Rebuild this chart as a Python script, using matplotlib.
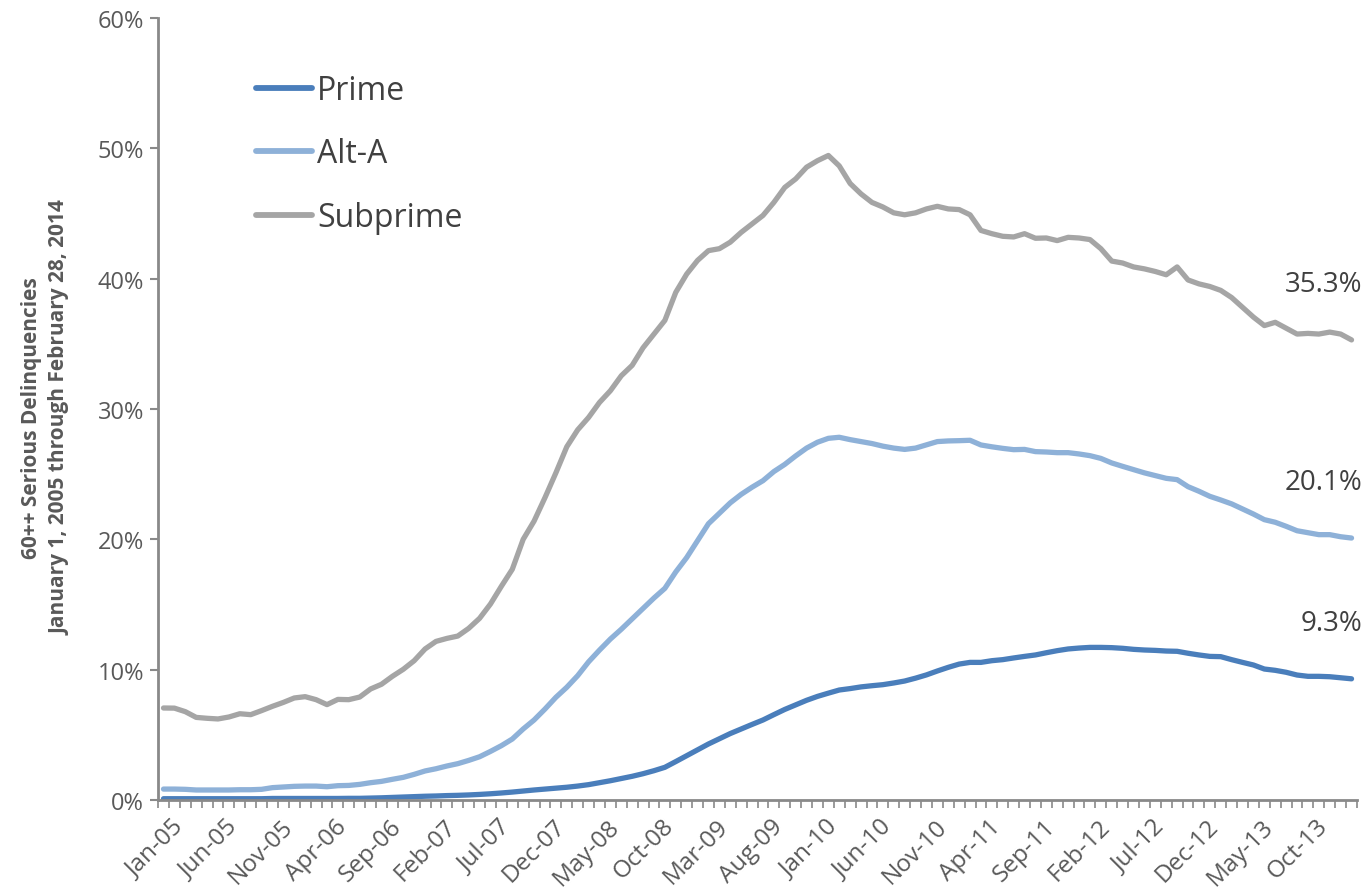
import numpy as np
import matplotlib
matplotlib.use("Agg")
import matplotlib.pyplot as plt
from matplotlib.ticker import FixedLocator, FuncFormatter
from matplotlib.transforms import ScaledTranslation

plt.rcParams['font.family'] = ['Open Sans', 'DejaVu Sans']

# monthly data, Jan-05 .. Feb-14 (percent)
months = [f"{m}-{y:02d}" for y in range(5, 15) for m in
          ["Jan", "Feb", "Mar", "Apr", "May", "Jun", "Jul", "Aug", "Sep", "Oct", "Nov", "Dec"]][:110]

prime = [
    0.10, 0.10, 0.10, 0.10, 0.10, 0.10, 0.10, 0.10, 0.10, 0.10,
    0.12, 0.12, 0.12, 0.12, 0.12, 0.12, 0.12, 0.13, 0.13, 0.15,
    0.17, 0.20, 0.23, 0.26, 0.29, 0.31, 0.34, 0.36, 0.39, 0.43,
    0.48, 0.54, 0.61, 0.69, 0.77, 0.84, 0.91, 0.98, 1.07, 1.18,
    1.33, 1.48, 1.65, 1.82, 2.02, 2.25, 2.51, 2.95, 3.40, 3.85,
    4.30, 4.70, 5.10, 5.45, 5.80, 6.14, 6.55, 6.95, 7.30, 7.65,
    7.95, 8.20, 8.44, 8.55, 8.68, 8.77, 8.85, 8.98, 9.13, 9.35,
    9.60, 9.90, 10.18, 10.43, 10.56, 10.56, 10.69, 10.77, 10.90, 11.02,
    11.13, 11.30, 11.46, 11.59, 11.66, 11.71, 11.71, 11.69, 11.64, 11.56,
    11.51, 11.48, 11.43, 11.41, 11.26, 11.13, 11.02, 11.00, 10.77, 10.56,
    10.36, 10.05, 9.95, 9.80, 9.59, 9.49, 9.49, 9.46, 9.38, 9.30,
]

alt_a = [
    0.84, 0.84, 0.82, 0.77, 0.77, 0.77, 0.77, 0.79, 0.79, 0.82,
    0.95, 1.00, 1.05, 1.07, 1.07, 1.02, 1.10, 1.12, 1.20, 1.33,
    1.43, 1.59, 1.74, 1.97, 2.23, 2.40, 2.61, 2.79, 3.04, 3.32,
    3.73, 4.17, 4.68, 5.45, 6.14, 6.98, 7.88, 8.65, 9.54, 10.60,
    11.50, 12.35, 13.10, 13.90, 14.70, 15.50, 16.24, 17.50, 18.60, 19.90,
    21.20, 22.00, 22.80, 23.45, 24.00, 24.50, 25.20, 25.75, 26.40, 27.00,
    27.45, 27.75, 27.83, 27.65, 27.50, 27.35, 27.15, 27.00, 26.90, 27.00,
    27.25, 27.50, 27.55, 27.57, 27.60, 27.24, 27.10, 26.98, 26.88, 26.90,
    26.73, 26.70, 26.65, 26.65, 26.55, 26.42, 26.21, 25.86, 25.60, 25.35,
    25.10, 24.89, 24.68, 24.58, 24.04, 23.69, 23.30, 23.02, 22.72, 22.33,
    21.94, 21.51, 21.31, 21.00, 20.66, 20.51, 20.36, 20.36, 20.20, 20.10,
]

subprime = [
    7.06, 7.05, 6.78, 6.34, 6.27, 6.22, 6.37, 6.62, 6.55, 6.86,
    7.19, 7.49, 7.83, 7.93, 7.70, 7.32, 7.72, 7.70, 7.90, 8.52,
    8.88, 9.49, 10.03, 10.69, 11.59, 12.17, 12.40, 12.58, 13.17, 13.94,
    15.04, 16.40, 17.70, 20.00, 21.40, 23.20, 25.10, 27.10, 28.40, 29.35,
    30.50, 31.40, 32.55, 33.35, 34.70, 35.75, 36.80, 38.95, 40.35, 41.40,
    42.15, 42.30, 42.80, 43.55, 44.20, 44.85, 45.85, 47.00, 47.65, 48.55,
    49.05, 49.45, 48.65, 47.30, 46.50, 45.85, 45.50, 45.05, 44.90, 45.05,
    45.35, 45.55, 45.35, 45.30, 44.90, 43.70, 43.45, 43.25, 43.20, 43.45,
    43.10, 43.12, 42.92, 43.17, 43.12, 43.00, 42.30, 41.35, 41.20, 40.90,
    40.75, 40.55, 40.30, 40.90, 39.90, 39.60, 39.40, 39.10, 38.55, 37.80,
    37.05, 36.40, 36.65, 36.20, 35.75, 35.80, 35.75, 35.90, 35.75, 35.30,
]

series_names = ["Prime", "Alt-A", "Subprime"]
series_colors = ["#4A7EBB", "#8EB1D8", "#A5A5A5"]
end_labels = ["9.3%", "20.1%", "35.3%"]

axis_gray = "#898989"
text_gray = "#595959"

fig = plt.figure(figsize=(13.66, 8.95), dpi=100)
ax = fig.add_axes([0.1157, 0.105, 0.8777, 0.8738])

x = np.arange(len(months))
for vals, name, col in zip([prime, alt_a, subprime], series_names, series_colors):
    ax.plot(x, vals, color=col, lw=3.8, label=name, solid_capstyle='round',
            solid_joinstyle='round')

# end-of-series value labels
for vals, lab in zip([prime, alt_a, subprime], end_labels):
    ax.annotate(lab, xy=(x[-1], vals[-1]), xytext=(8, 30), textcoords='offset points',
                ha='right', va='bottom', fontsize=20, color='#404040')

ax.set_xlim(-0.5, len(months) - 0.5)
ax.set_ylim(0, 60)

# y axis
ax.set_yticks(np.arange(0, 61, 10))
ax.yaxis.set_major_formatter(FuncFormatter(lambda v, p: f"{v:.0f}%"))
ax.tick_params(axis='y', direction='out', length=6, width=1.5, color=axis_gray,
               labelsize=17, labelcolor=text_gray, pad=4)

# x axis: category ticks between months, labels every 5 months
ax.xaxis.set_major_locator(FixedLocator(x[::5]))
ax.set_xticklabels(months[::5], rotation=45, ha='right', rotation_mode='anchor')
ax.xaxis.set_minor_locator(FixedLocator(np.arange(-0.5, len(months), 1)))
ax.tick_params(axis='x', which='major', length=0, labelsize=17.5, labelcolor=text_gray, pad=10)
ax.tick_params(axis='x', which='minor', direction='out', length=6, width=1.2, color=axis_gray)
for lbl in ax.get_xticklabels():
    lbl.set_transform(lbl.get_transform() + ScaledTranslation(0.08, 0, fig.dpi_scale_trans))

for side in ['top', 'right']:
    ax.spines[side].set_visible(False)
for side in ['left', 'bottom']:
    ax.spines[side].set_color(axis_gray)
    ax.spines[side].set_linewidth(2)

ax.set_ylabel("60++ Serious Delinquencies\nJanuary 1, 2005 through February 28, 2014",
              fontsize=15, fontweight='bold', color=text_gray, linespacing=1.45)
ax.yaxis.set_label_coords(-0.073, 0.49)

leg = ax.legend(loc='upper left', bbox_to_anchor=(0.058, 0.965), frameon=False,
                fontsize=23, handlelength=1.75, handletextpad=0.15, labelspacing=0.95,
                labelcolor='#404040')
for h in leg.get_lines():
    h.set_linewidth(4.2)

fig.savefig("out.png", dpi=100)
